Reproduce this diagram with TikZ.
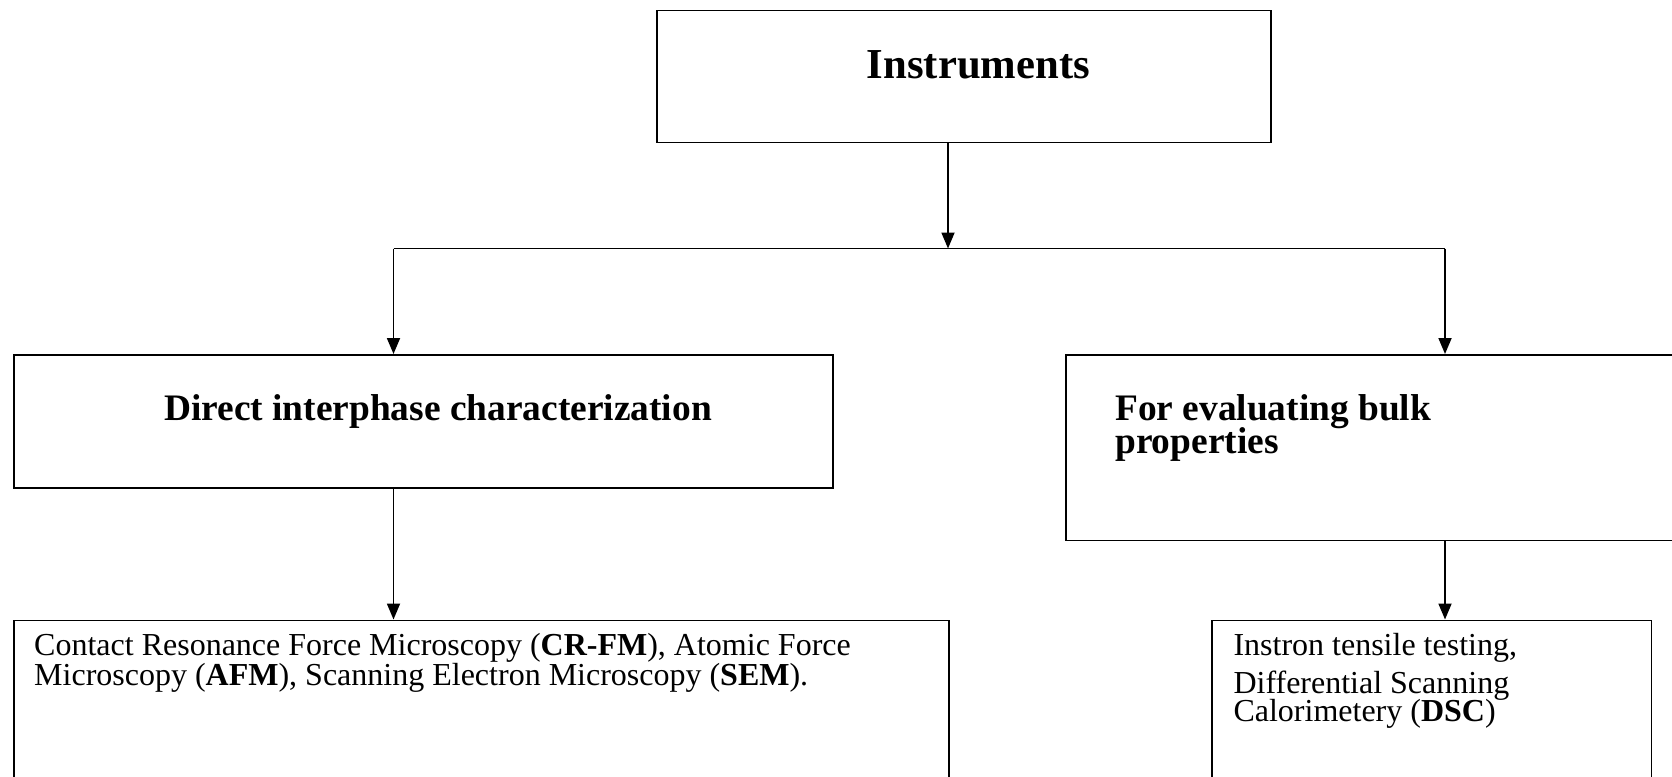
\documentclass[tikz,border=0pt]{standalone}
\usepackage{fontspec}
\setmainfont{Liberation Serif}
\usetikzlibrary{arrows.meta}
\begin{document}
\begin{tikzpicture}[x=1pt,y=-1pt,
  boxshape/.style={draw=black,line width=1.8pt,inner sep=0pt,anchor=north west},
  conn/.style={line width=1.8pt,-{Triangle[length=16pt,width=13pt]}},
  plainline/.style={line width=1.8pt},
  lbl/.style={inner sep=0pt,anchor=base west},
  big/.style={font=\fontsize{42.7}{46}\selectfont\bfseries},
  head/.style={font=\fontsize{37.4}{40}\selectfont\bfseries},
  body/.style={font=\fontsize{32}{34}\selectfont}]
\clip (0,0) rectangle (1672,776);
% boxes
\node[boxshape,minimum width=614pt,minimum height=132pt] (inst) at (656,9.6) {};
\node[boxshape,minimum width=819pt,minimum height=133pt] (direct) at (12.8,354) {};
\node[boxshape,minimum width=630pt,minimum height=185.5pt] (bulk) at (1065,354) {};
\node[boxshape,minimum width=935pt,minimum height=200pt] (micro) at (12.8,619.5) {};
\node[boxshape,minimum width=439.6pt,minimum height=200pt] (tens) at (1211,619.5) {};
% texts
\node[lbl,big] (tinst) at (866.7,78.3) {Instruments};
\node[lbl,head] (tdirect) at (164,420) {Direct interphase characterization};
\node[lbl,head] (tbulka) at (1115,420) {For evaluating bulk};
\node[lbl,head] (tbulkb) at (1115,453.3) {properties};
\node[lbl,body] (tmicroa) at (34,655) {Contact Resonance Force Microscopy (\textbf{CR-FM}), Atomic Force};
\node[lbl,body] (tmicrob) at (34,685) {Microscopy (\textbf{AFM}), Scanning Electron Microscopy (\textbf{SEM}).};
\node[lbl,body] (ttensa) at (1233.3,655) {Instron tensile testing,};
\node[lbl,body] (ttensb) at (1233.3,693.3) {Differential Scanning};
\node[lbl,body] (ttensc) at (1233.3,721.7) {Calorimetery (\textbf{DSC})};
% connectors
\coordinate (jc) at (948,248.5);
\coordinate (jl) at (393.5,248.5);
\coordinate (jr) at (1445,248.5);
\draw[conn] (inst.south -| jc) -- (jc);
\draw[plainline] (jl) -- (jr);
\draw[conn] (jl) -- (direct.north -| jl);
\draw[conn] (jr) -- (bulk.north -| jr);
\draw[conn] (direct.south -| jl) -- (micro.north -| jl);
\draw[conn] (bulk.south -| jr) -- (tens.north -| jr);
\end{tikzpicture}
\end{document}
